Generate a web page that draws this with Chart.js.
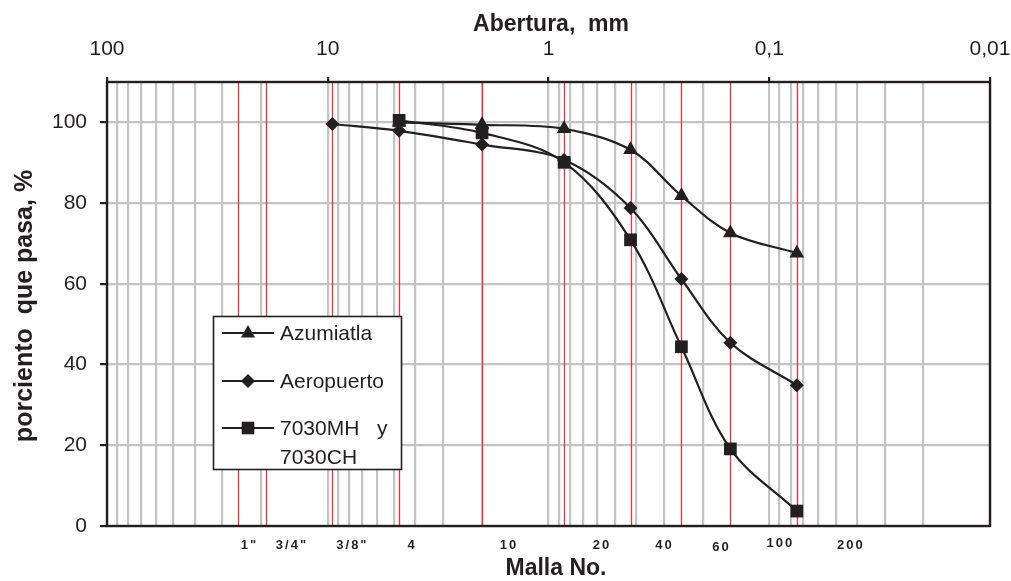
<!DOCTYPE html>
<html>
<head>
<meta charset="utf-8">
<script src="https://cdn.jsdelivr.net/npm/chart.js@4.4.0/dist/chart.umd.min.js"></script>
<style>
  html, body { margin: 0; padding: 0; background: #fff; }
  #wrap { width: 1011px; height: 581px; position: relative; }
</style>
</head>
<body>
<div id="wrap"><canvas id="granulometria"></canvas></div>
<script>
// sieve openings (mm) and their names
const sieveSizes = [25.4, 19.05, 9.525, 4.75, 2.0, 0.85, 0.425, 0.25, 0.15, 0.075];
const sieveNames = ['1"', '3/4"', '3/8"', '4', '10', '20', '40', '60', '100', '200'];

// tested openings and percent passing
const openings = [9.525, 4.75, 2.0, 0.85, 0.425, 0.25, 0.15, 0.075];
const azumiatla = [null, 100, 99.4, 98.4, 93.2, 81.8, 72.6, 67.6];
const aeropuerto = [99.6, 97.9, 94.5, 90.7, 78.8, 61.2, 45.4, 34.9];
const mh7030 = [null, 100.5, 97.4, 90.1, 70.9, 44.4, 19.1, 3.7];

const topTicks = [100, 10, 1, 0.1, 0.01];
const yTicks = [0, 20, 40, 60, 80, 100];

const INK = '#231f20';
const FONT = '"Liberation Sans", Arial, sans-serif';

// label shifts (px) of the sieve names from their red line, as placed in the original
const nameShiftX = [10, 25, 19, 12, 26, 37, 33, 39, 49, 53];
const nameShiftY = [0, 0, 0, 0, 0, 0, 0, 2, -2, 0];

const toPoints = vals => openings.map((x, i) => ({ x, y: vals[i] })).filter(p => p.y !== null);

function drawMarker(ctx, style, x, y) {
  ctx.beginPath();
  if (style === 'triangle') {
    ctx.moveTo(x, y - 8); ctx.lineTo(x + 7, y + 4.5); ctx.lineTo(x - 7, y + 4.5);
  } else if (style === 'rectRot') {
    ctx.moveTo(x, y - 7); ctx.lineTo(x + 7, y); ctx.lineTo(x, y + 7); ctx.lineTo(x - 7, y);
  } else {
    ctx.rect(x - 6.3, y - 6.3, 12.6, 12.6);
  }
  ctx.closePath();
  ctx.fill();
}

const decorations = {
  id: 'decorations',
  beforeDatasetsDraw(chart) {
    const { ctx, chartArea: a, scales: { x } } = chart;
    ctx.save();
    // red sieve lines
    ctx.strokeStyle = '#e8323c';
    ctx.lineWidth = 1.3;
    sieveSizes.forEach(s => {
      const px = Math.round(x.getPixelForValue(s)) + 0.5;
      ctx.beginPath(); ctx.moveTo(px, a.top); ctx.lineTo(px, a.bottom); ctx.stroke();
    });
    // frame
    ctx.strokeStyle = INK;
    ctx.lineWidth = 2.4;
    ctx.strokeRect(a.left, a.top, a.right - a.left, a.bottom - a.top);
    ctx.restore();
  },
  afterDatasetsDraw(chart) {
    const { ctx, scales: { x } } = chart;
    ctx.save();
    ctx.fillStyle = INK;

    // axis titles
    ctx.font = 'bold 23px ' + FONT;
    ctx.textAlign = 'center';
    ctx.textBaseline = 'middle';
    ctx.fillText('Abertura,  mm', 551, 25);
    ctx.fillText('Malla No.', 556, 569);
    ctx.save();
    ctx.translate(25, 306);
    ctx.rotate(-Math.PI / 2);
    ctx.font = 'bold 25px ' + FONT;
    ctx.fillText('porciento  que pasa, %', 0, 0);
    ctx.restore();

    // sieve names under the plot
    ctx.font = 'bold 13px ' + FONT;
    if ('letterSpacing' in ctx) ctx.letterSpacing = '2px';
    sieveNames.forEach((n, i) => {
      const px = x.getPixelForValue(sieveSizes[i]) + nameShiftX[i] + 1;
      ctx.fillText(n, px, 545 + nameShiftY[i]);
    });
    if ('letterSpacing' in ctx) ctx.letterSpacing = '0px';

    // legend box
    ctx.fillStyle = '#fff';
    ctx.fillRect(213, 316, 189, 154);
    ctx.strokeStyle = INK;
    ctx.lineWidth = 1.6;
    ctx.strokeRect(213.5, 316.5, 188, 153);
    const rows = [
      { style: 'triangle', y: 333, text: ['Azumiatla'] },
      { style: 'rectRot', y: 381, text: ['Aeropuerto'] },
      { style: 'rect', y: 428, text: ['7030MH   y', '7030CH'] }
    ];
    ctx.font = '21px ' + FONT;
    ctx.textAlign = 'left';
    rows.forEach(r => {
      ctx.strokeStyle = INK;
      ctx.lineWidth = 2;
      ctx.beginPath(); ctx.moveTo(222, r.y); ctx.lineTo(274, r.y); ctx.stroke();
      ctx.fillStyle = INK;
      drawMarker(ctx, r.style, 248, r.y);
      r.text.forEach((t, k) => ctx.fillText(t, 280, r.y + 1 + k * 29));
    });
    ctx.restore();
  }
};

const lineStyle = (label, data, pointStyle, radius) => ({
  label, data: toPoints(data), pointStyle,
  borderColor: INK, backgroundColor: INK, borderWidth: 2.2,
  pointRadius: radius, pointBorderWidth: 0, pointBackgroundColor: INK,
  tension: 0.35, fill: false
});

new Chart(document.getElementById('granulometria'), {
  type: 'line',
  data: {
    datasets: [
      lineStyle('Azumiatla', azumiatla, 'triangle', 8.5),
      lineStyle('7030MH y 7030CH', mh7030, 'rect', 9),
      lineStyle('Aeropuerto', aeropuerto, 'rectRot', 7)
    ]
  },
  options: {
    responsive: true,
    maintainAspectRatio: false,
    animation: false,
    layout: { padding: { left: 0, top: 0, right: 21, bottom: 55 } },
    plugins: { legend: { display: false }, tooltip: { enabled: false } },
    scales: {
      x: {
        type: 'logarithmic',
        position: 'top',
        reverse: true,
        min: 0.01,
        max: 100,
        border: { display: false },
        grid: {
          color: '#c4c4c4',
          lineWidth: 2.2,
          tickLength: 5,
          tickColor: c => (c.tick && topTicks.includes(c.tick.value)) ? INK : 'rgba(0,0,0,0)'
        },
        afterBuildTicks: s => {
          const t = [];
          for (let e = -2; e < 2; e++)
            for (let m = 1; m < 10; m++) t.push({ value: Number((m * Math.pow(10, e)).toPrecision(3)) });
          t.push({ value: 100 });
          s.ticks = t;
        },
        afterFit: s => { s.height = 82; },
        ticks: {
          autoSkip: false,
          maxRotation: 0,
          padding: 15,
          color: INK,
          font: { size: 21, family: FONT },
          callback: v => topTicks.includes(v) ? String(v).replace('.', ',') : ''
        }
      },
      y: {
        min: 0,
        max: 110,
        border: { display: false },
        grid: { color: '#c4c4c4', lineWidth: 2.2, tickLength: 7, tickColor: INK },
        afterBuildTicks: s => { s.ticks = yTicks.map(v => ({ value: v })); },
        afterFit: s => { s.width = 107; },
        ticks: {
          padding: 13,
          color: INK,
          font: { size: 21, family: FONT }
        }
      }
    }
  },
  plugins: [decorations]
});
</script>
</body>
</html>
